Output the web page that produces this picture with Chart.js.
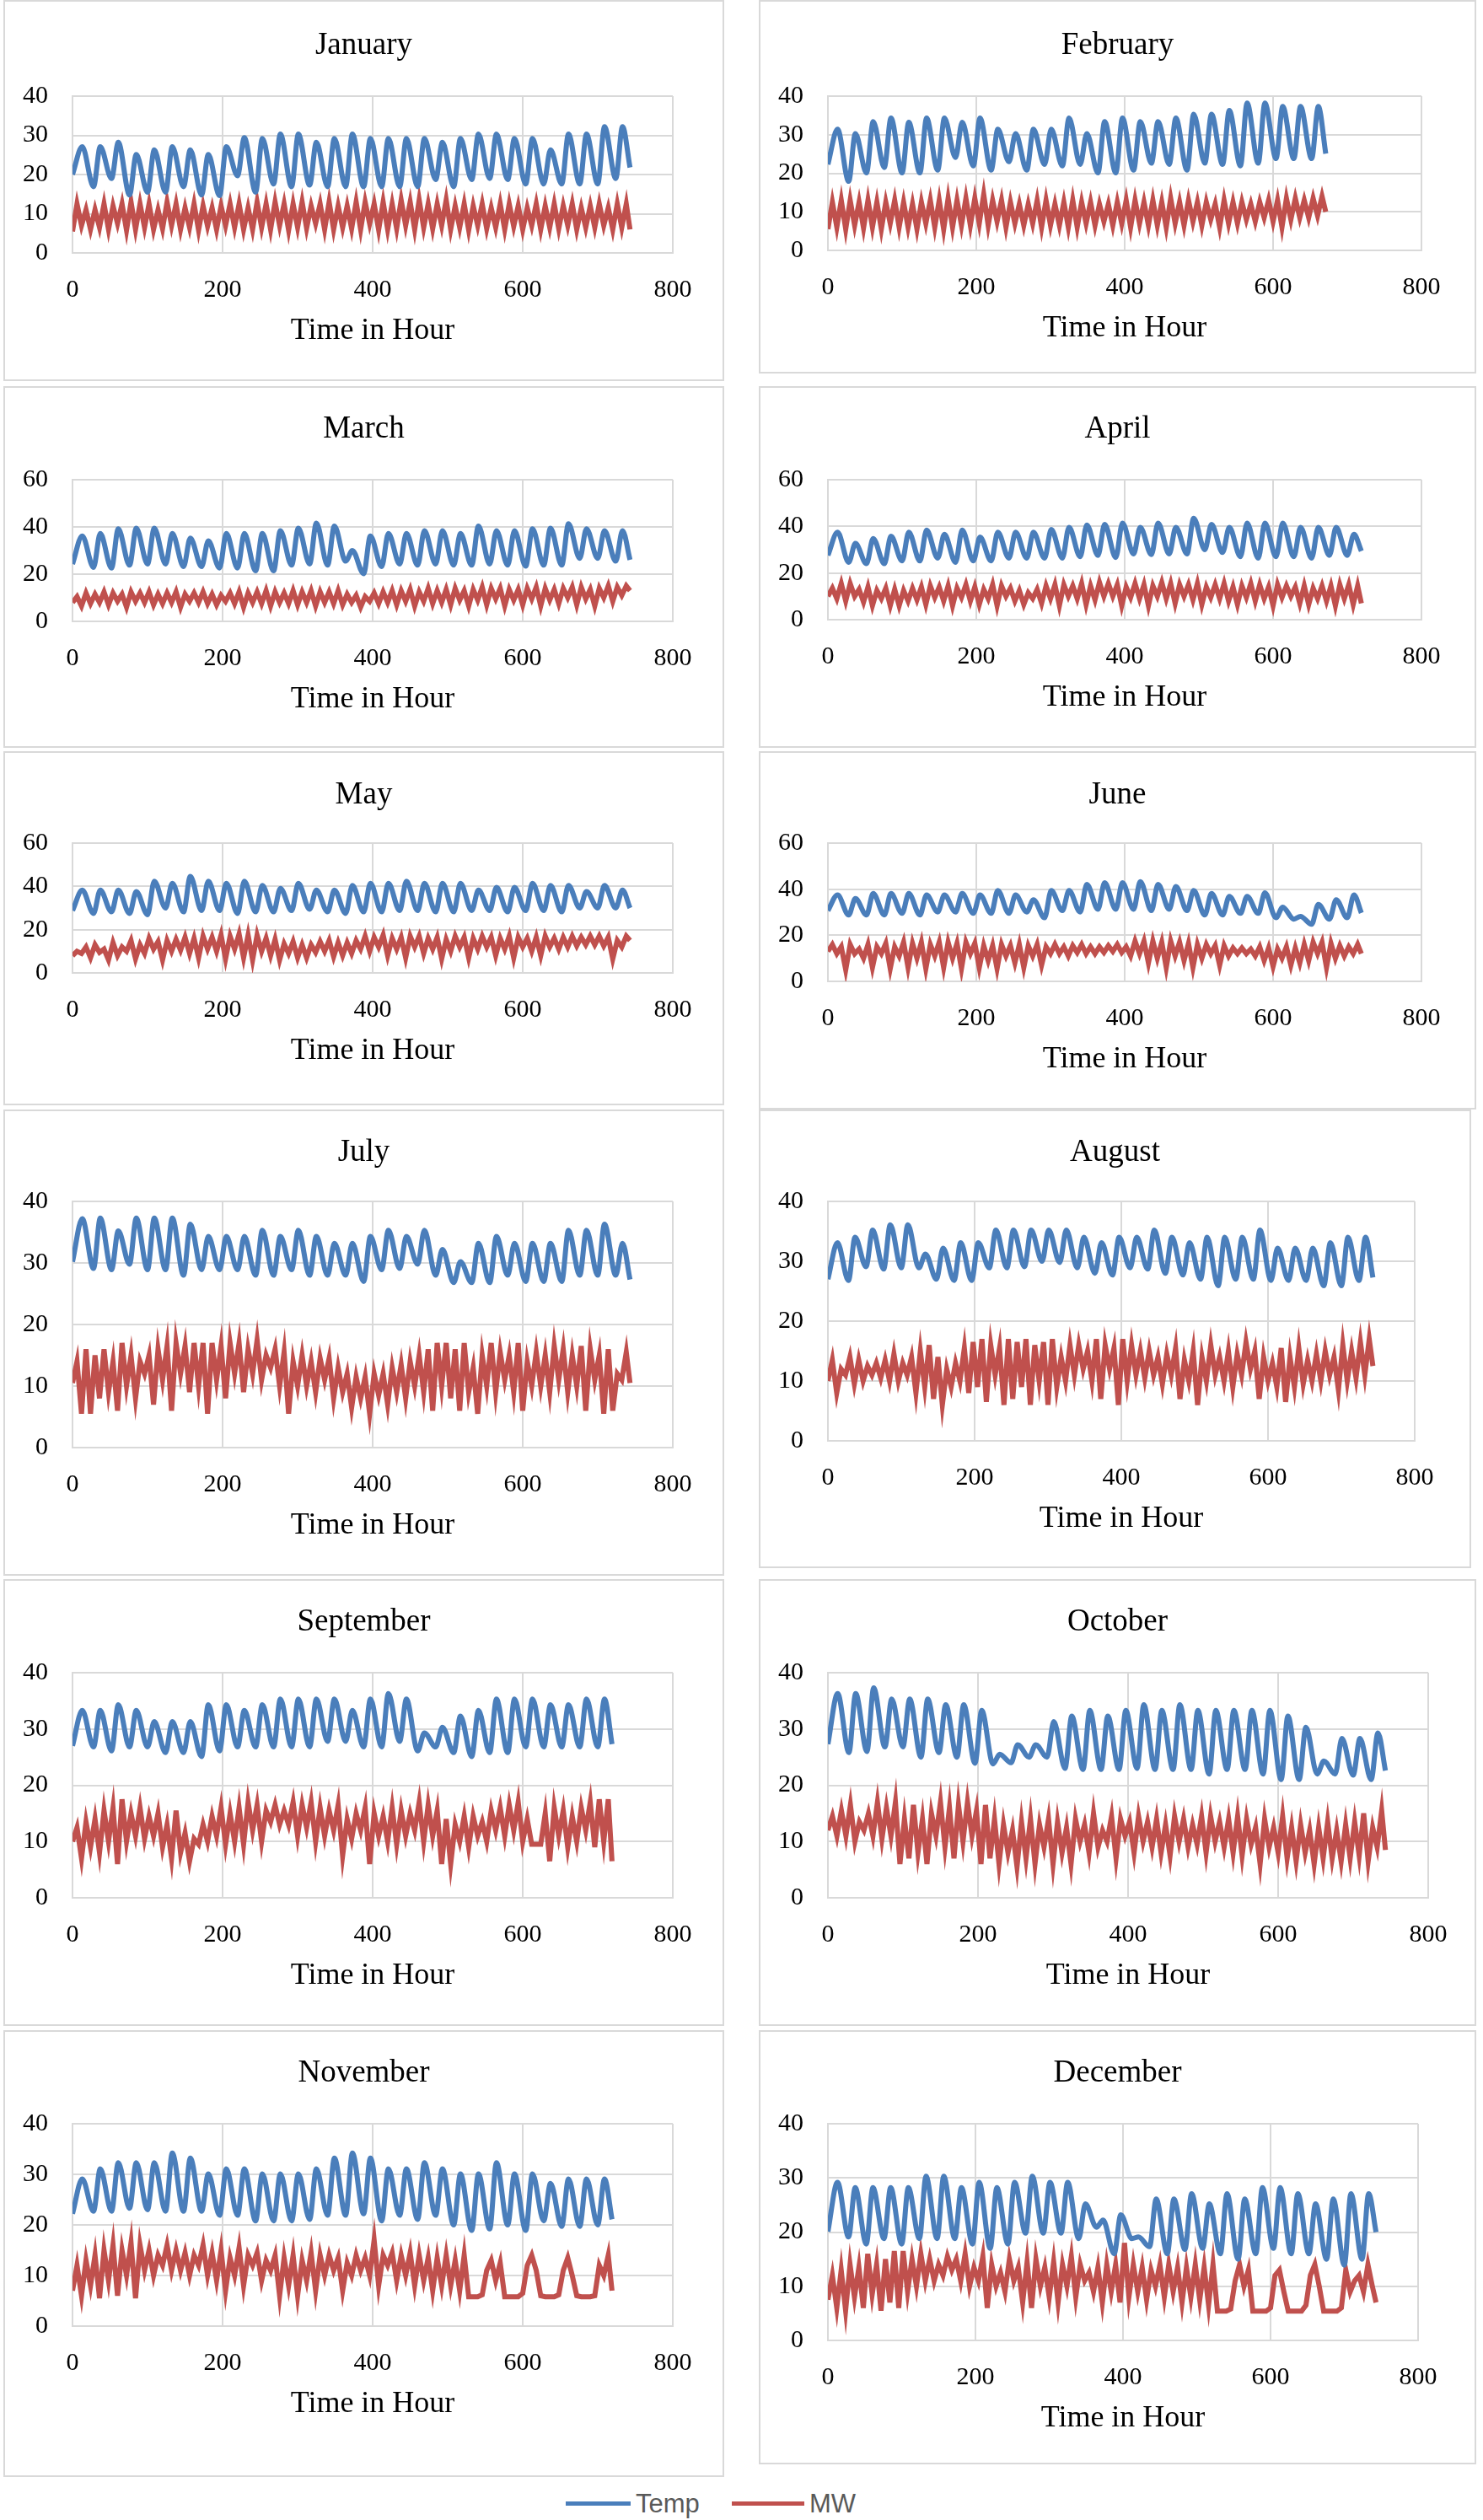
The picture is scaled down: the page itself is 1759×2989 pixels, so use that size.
<!DOCTYPE html>
<html>
<head>
<meta charset="utf-8">
<script src="https://cdn.jsdelivr.net/npm/chart.js@4.4.1/dist/chart.umd.min.js"></script>
<style>
  html, body { margin: 0; padding: 0; background: #fff; }
  #page { position: relative; width: 1759px; height: 2989px; overflow: hidden; }
  .panel { position: absolute; }
  .frame { position: absolute; border: 2px solid #d9d9d9; box-sizing: border-box; pointer-events: none; }
  .title { position: absolute; text-align: center; font-family: "Liberation Serif", "Times New Roman", serif;
    font-size: 37px; line-height: 44px; color: #000; }
  .legend { position: absolute; font-family: "Liberation Sans", Arial, sans-serif; font-size: 31px; color: #595959; }
  .legend .swatch { position: absolute; height: 5px; }
  .legend .label { position: absolute; line-height: 1; }
</style>
</head>
<body>
<div id="page"></div>
<script>
// Month names and hours in each month
const months = ['January', 'February', 'March', 'April', 'May', 'June',
  'July', 'August', 'September', 'October', 'November', 'December'];
const monthHours = [744, 672, 744, 720, 744, 720, 744, 744, 720, 744, 720, 744];

// Temp: daily low (early morning) and daily high (afternoon); last low = value at final hour
const janTempLow = [20, 16.9, 19, 14.8, 15.5, 15.5, 16.9, 14.8, 14.6, 19.7, 15.5, 17.6, 16.9, 17.3, 16.9, 16.9,
  16.9, 16.9, 16.9, 16.9, 18.7, 16.9, 18.7, 19, 18.7, 17.6, 17.6, 17.6, 17.6, 17.6, 19, 21.8];
const janTempHigh = [27.1, 27.1, 28.2, 25.1, 26.3, 27.1, 26.3, 25.1, 27.1, 29.4, 29.2, 30.3, 30.3, 28.2, 29.2, 30.3,
  29.2, 29.2, 29.2, 29.2, 28.2, 29.2, 30.3, 30.3, 29.2, 29.2, 26.3, 30.3, 30.3, 32.2, 32.2];
const febTempLow = [22.3, 17.9, 20.1, 21.5, 20.1, 20.1, 20.8, 24.1, 21.9, 20.8, 23, 20.8, 22.3, 21.9, 22.3,
  20.1, 20.1, 20.8, 22.6, 22.3, 20.8, 22.6, 22.3, 21.9, 22.6, 23.8, 23.8, 23.8, 25.1];
const febTempHigh = [31.4, 30.3, 33.4, 34.3, 33.2, 34.3, 34.3, 33.2, 34.3, 31.4, 30.3, 31.4, 31.4, 34.3,
  30.3, 33.4, 34.3, 33.4, 33.4, 34.3, 35.3, 35.3, 36.3, 38.2, 38.2, 37.3, 37.3, 37.3];
const marTempLow = [24.3, 22.9, 22.6, 23.8, 24.3, 24.3, 23.2, 23.2, 22.6, 22.6, 21.4, 21.4, 23.8, 24.3, 23.8, 25.5,
  20.2, 23.2, 24.3, 23.8, 24.3, 23.8, 23.8, 24.3, 23.8, 23.4, 23.8, 23.8, 26.7, 26.7, 25.5, 26.1];
const marTempHigh = [36.2, 37.2, 39.2, 39.5, 39.5, 37.2, 35.3, 34.1, 37.2, 37.2, 37.2, 38.4, 39.5, 41.6, 40.4, 30,
  36.2, 37.2, 37.2, 38.4, 38.4, 37.2, 40.4, 38.4, 38.4, 39.2, 39.5, 41.3, 39.2, 38.4, 38.4];
const aprTempLow = [27.6, 24.6, 24, 24, 25.2, 25.2, 26.4, 24.6, 25.2, 25.2, 26.4, 26.4, 26.4, 26.4, 27, 27.6,
  26.7, 28.2, 27.9, 28.2, 28.2, 30, 28.8, 27, 26.4, 27, 27, 26.4, 27.6, 27.6, 29.4];
const aprTempHigh = [37.5, 32.7, 34.8, 35.8, 37.5, 38.4, 36.6, 38.4, 35.4, 37.5, 37.5, 37.5, 38.7, 39.6, 40.6,
  40.8, 41.4, 39.6, 41.4, 39.6, 43.5, 40.8, 39.6, 41.4, 41.4, 41.4, 39.6, 39.6, 39.6, 36.6];
const mayTempLow = [28.8, 27.5, 28.2, 27.5, 26.9, 30, 28.2, 28.8, 28.8, 27.5, 28.2, 28.2, 28.8, 29.4, 28.2, 27.5,
  28.2, 28.2, 28.8, 28.8, 28.2, 28.2, 28.8, 28.8, 28.2, 28.8, 28.8, 28.2, 30, 30, 30, 30];
const mayTempHigh = [38.3, 38.3, 38.3, 37.6, 42.4, 41.4, 44.6, 42.4, 41.4, 42.4, 40.4, 39.1, 41.4, 38.3, 38.3, 40.4,
  41.4, 41.4, 42.4, 41.4, 41.4, 41.4, 38.3, 39.5, 39.5, 41.4, 40.4, 40.4, 37.6, 40.4, 38.3];
const junTempLow = [30.7, 28.8, 28.8, 28.8, 29.5, 28.8, 30.1, 30.1, 29.5, 29.5, 29.5, 30.1, 27.6, 30.7, 30.1, 31.3,
  31.3, 31.3, 30.7, 31.3, 30.7, 28.8, 28.8, 29.5, 29.5, 27.6, 27, 24.8, 27, 27.6, 29.7];
const junTempHigh = [37.5, 35.9, 38.1, 38.1, 38.1, 37.5, 37.5, 38.1, 37.5, 39.4, 37.5, 35.4, 39.4, 39.4, 42.1,
  42.8, 42.8, 43.3, 42.1, 41.2, 39.4, 38.1, 36.9, 36.9, 38.4, 32.2, 28.2, 33.4, 35.4, 37.5];
const julTempLow = [30.2, 29.1, 28.9, 29.8, 28.9, 28.9, 28, 28.9, 28.9, 28.9, 28, 28, 28.9, 28, 28, 28,
  27, 28.9, 29.1, 29.8, 28, 26.8, 26.8, 26.8, 28, 27, 27, 27, 28, 28, 28, 27.3];
const julTempHigh = [37.2, 37.3, 35.2, 37.3, 37.3, 37.3, 36.3, 34.3, 34.3, 34.3, 35.3, 34.3, 35.3, 34.3, 33.2, 33.2,
  34.3, 35.3, 34.3, 35.3, 32.2, 30.2, 33.2, 34.3, 33.2, 33.2, 33.2, 35.3, 35.3, 36.3, 33.2];
const augTempLow = [27, 26.8, 29.1, 28.7, 28.9, 28.9, 27, 26.8, 26.8, 28.9, 28.9, 29.1, 30, 29.8, 28.9, 28,
  27.7, 28.9, 28.7, 28, 27.7, 27, 25.9, 27, 27, 26.8, 26.8, 26.8, 25.9, 25.9, 26.8, 27.3];
const augTempHigh = [33.1, 34, 35.2, 36.1, 36.1, 31.2, 32.2, 33.1, 33.1, 35.2, 35.2, 35.2, 35.2, 35.2, 34, 33.1,
  34, 34, 35.2, 34, 33.1, 34, 34, 34, 35.2, 32.2, 32.2, 32.2, 33.1, 34, 34];
const sepTempLow = [27, 26.8, 26.1, 26.8, 26.8, 25.8, 25.8, 25.1, 26.1, 26.8, 26.8, 26.8, 26.8, 26.8, 27.8, 27.8,
  26.8, 26.8, 27.8, 26.1, 26.8, 25.8, 25.1, 25.8, 25.8, 26.8, 26.8, 26.8, 26.8, 26.8, 27.3];
const sepTempHigh = [33.3, 33.3, 34.3, 33.3, 31.3, 31.3, 31.3, 34.3, 34.3, 33.3, 34.3, 35.3, 35.3, 35.3, 35.3,
  33.3, 35.3, 36.3, 35.3, 29.3, 30.3, 32.3, 33.3, 35.3, 35.3, 35.3, 34.3, 34.3, 35.3, 35.3];
const octTempLow = [27.3, 25.8, 26, 26.8, 26.8, 25, 25.8, 25, 23.9, 23.8, 24, 25, 25, 23, 22.8, 22.8,
  22.8, 23, 22.8, 22.8, 22.8, 22, 22.8, 22.8, 22, 21, 21, 22, 22, 21.8, 21, 22.6];
const octTempHigh = [36.3, 36.3, 37.3, 35.3, 35.3, 35.3, 34.3, 34.3, 33.3, 25.5, 27.2, 27.2, 31.3, 32.3, 33.3, 32.3,
  33.3, 34.3, 33.3, 34.3, 33.3, 33.3, 33.3, 33.3, 33.3, 32.3, 30.3, 24.3, 28.3, 28.3, 29.3];
const novTempLow = [22.2, 22.7, 22.7, 23.3, 23, 22.7, 22.7, 22.7, 21.9, 21.9, 20.8, 20.8, 20.8, 21.1, 21.9, 21.9,
  22.2, 20.8, 21.9, 21.1, 21.9, 20, 18.9, 19.2, 20, 18.9, 20.8, 19.7, 19.7, 20, 21.1];
const novTempHigh = [29.1, 31.1, 32.3, 32.3, 32.3, 34.2, 33.2, 30.1, 31.1, 31.1, 30.1, 30.1, 30.1, 31.1, 33.2,
  34.2, 33.2, 31.1, 31.1, 32.3, 31.1, 30.1, 30.1, 32.3, 30.1, 30.1, 28.2, 29.1, 29.1, 29.1];
const decTempLow = [20.1, 19.1, 17.8, 18.8, 17.8, 18.8, 18.8, 18.8, 17.8, 17, 17.8, 19.8, 19.8, 19.8, 18.8, 20.9,
  16, 18.8, 17.3, 16, 16.8, 17, 16, 15, 16, 17, 16, 16, 15, 13.9, 15, 20];
const decTempHigh = [29.2, 28.2, 28.2, 28.2, 28.2, 30.3, 30.3, 28.2, 29.2, 28.2, 29.2, 30.3, 29.2, 29.2, 25.2, 22.2,
  23.2, 19.1, 26.1, 26.1, 27.1, 25.2, 27.1, 26.1, 28.2, 28.2, 27.1, 25.2, 26.1, 27.1, 27.1];

// MW: readings every 6 hours (4 per day), last value = final hour
const janMW = [5.5, 12.5, 7, 11, 6, 11, 6.5, 12.5, 6, 12, 7.5, 12.5, 5.8, 13, 6, 12.5,
  6.5, 12.5, 6, 11, 6.2, 13, 7, 12.5, 6, 11.5, 6.5, 12.5, 5.8, 12, 6.8, 11.5,
  6, 12, 7, 12.5, 6.5, 12.5, 6, 11.5, 6, 13, 6.5, 12.5, 6, 13, 7, 12.5,
  5.8, 12.5, 6.5, 13, 6.3, 12, 7.5, 12.5, 6, 13, 6, 12, 6.5, 12, 6.2, 13,
  6, 13, 7.5, 12.5, 5.9, 13, 6, 12.5, 6.2, 13.5, 7, 13, 6, 13.5, 6.5, 12.5,
  6.2, 12.5, 7, 13.5, 6, 12, 6.5, 12.5, 5.8, 12, 7, 12.5, 6.2, 11.5, 6.5, 12.5,
  6, 12.5, 6.8, 12, 6, 11.5, 7, 12.5, 6, 12, 6.5, 12.5, 6.2, 12, 7, 12.5,
  6, 11.5, 6.5, 12, 6.5, 12.5, 7, 11.5, 6, 12.5, 6.5, 12.5, 6];
const febMW = [5.5, 12.5, 6, 13, 5.5, 13, 6.5, 12.5, 5.8, 13, 6, 12.5, 5.5, 12.5, 7, 13,
  6, 12.5, 6, 12, 5.5, 12.5, 7, 13, 6, 13, 5.5, 13.5, 6, 13, 6.5, 13.5,
  6.5, 13.5, 7, 14.5, 6.5, 13, 7.5, 13, 6, 12.5, 7, 12, 6.5, 12, 7, 13,
  6, 13, 6.5, 12, 6.5, 12.5, 6, 13, 6, 12.5, 7, 12.5, 6.5, 12, 7.5, 12,
  6.5, 12.5, 7, 13, 6, 13, 7, 12.5, 6.5, 13, 6.5, 12.5, 6, 13.5, 7, 12.5,
  6.5, 13, 7.5, 12.5, 6.5, 12.5, 8, 12, 6, 13, 7, 12.5, 7, 12.5, 8, 12,
  7.5, 12.5, 8.5, 13, 7.5, 13, 6, 13.5, 8, 13.5, 8.5, 13, 8.5, 13.5, 9, 14, 10];
const marMW = [8, 10.5, 6.5, 12, 7.5, 11.5, 8, 12.5, 7, 12, 8.5, 11.5, 6, 12.5, 8.5, 12,
  8, 12.5, 7, 11.5, 7.5, 12, 8, 12.5, 6, 11.5, 8.5, 12, 8, 12.5, 7.5, 11.5,
  7, 11, 8.5, 12, 7.5, 12.5, 6, 12, 8, 12.5, 7.5, 13, 6.5, 12.5, 8, 12,
  7.5, 13, 7, 12.5, 8, 13, 6.5, 12.5, 8, 12.5, 7.5, 13, 7, 11.5, 8, 11,
  6, 10.5, 8.5, 12, 7.5, 12.5, 8, 13, 7, 13, 8.5, 13.5, 6.5, 12.5, 8.5, 14,
  7.5, 13, 8, 13.5, 7, 14, 9, 13, 6.5, 13.5, 9, 14.5, 7, 14, 9.5, 14,
  6.5, 13.5, 9, 13.5, 7, 14, 9.5, 14.5, 6.5, 14, 9, 13.5, 7.5, 14, 10, 14.5,
  7, 14.5, 9.5, 13.5, 6.5, 14, 10, 15, 8.5, 14.5, 11, 15, 13];
const aprMW = [10, 13.5, 9, 15.5, 8, 15.5, 10, 13, 7.5, 14, 6, 12.5, 9, 13.5, 6, 13,
  6, 12.5, 8, 13.5, 8.5, 14, 6.5, 14.5, 9.5, 14, 8, 14.5, 6, 13.5, 9.5, 15,
  8, 14, 6.5, 13, 9, 15, 6, 14.5, 10, 13.5, 8, 12.5, 6.5, 11.5, 9, 13,
  7, 14.5, 9, 15, 6, 15, 10, 14.5, 9, 15.5, 6.5, 14.5, 8.5, 16, 10, 15.5,
  10, 15, 6, 14, 9.5, 15.5, 9, 15, 6, 14.5, 10, 16, 9, 15.5, 7, 15,
  10, 15, 8.5, 15.5, 6.5, 14, 9.5, 15, 9, 15.5, 8, 14, 6.5, 14.5, 9.5, 15.5,
  8, 15, 9, 14, 6, 15, 9.5, 14.5, 10, 14, 7, 14.5, 6.5, 13.5, 9, 14.5,
  8, 14.5, 6, 15, 9, 15, 6.5, 14.5, 7];
const mayMW = [8, 10, 9, 12, 7, 13, 9.5, 11, 6, 14, 8, 12, 10, 15, 6.5, 13,
  9, 16, 11, 14.5, 6, 15, 10, 15.5, 10.5, 16.5, 9, 16, 7, 17, 11, 16.5,
  10, 17.5, 6.5, 17, 11, 18, 7, 17.5, 6, 17.5, 10, 16, 8, 15.5, 6, 13.5,
  9, 14.5, 7, 13, 7, 13, 9.5, 14.5, 10, 15, 7.5, 14, 8, 14, 9, 15,
  11, 17, 10, 16.5, 12, 17.5, 8, 16, 11, 16.5, 7, 17, 12, 17, 9, 16,
  11, 16.5, 6.5, 15.5, 10, 17, 12, 16.5, 7, 16, 11, 17, 12, 16.5, 8, 16,
  11, 17, 7, 16.5, 12, 16, 10, 16.5, 8, 17, 12, 16, 11, 16.5, 12, 17,
  12.5, 16.5, 13, 17, 13, 17, 12.5, 16.5, 6.5, 15, 12, 17, 15];
const junMW = [13, 16, 12, 15, 5, 16, 12, 14, 10, 16, 6, 15, 12, 16.5, 5.5, 15,
  11, 17, 6, 16.5, 10, 17, 5.5, 16, 11, 17, 6, 17, 10, 16.5, 5.5, 17,
  12, 16.5, 6, 15.5, 9, 15.5, 5.5, 16, 11, 15.5, 8, 16, 6, 15.5, 11, 16,
  7, 15, 12, 16, 12, 15, 11, 15.5, 12.5, 16, 12, 15, 12, 15, 12.5, 15.5,
  13, 16, 12.5, 15, 11, 17.5, 12, 17.5, 8, 17.5, 10, 17, 6, 17.5, 11, 17,
  9, 16.5, 6, 16, 10, 16, 12, 15.5, 7, 15.5, 11, 14.5, 12, 14.5, 12, 14,
  11, 15, 9, 14.5, 6.5, 14, 10, 15, 7, 14.5, 8, 16, 9, 17, 12, 17,
  6, 16.5, 10, 15.5, 11, 15, 12, 16, 12];
const julMW = [10.5, 14, 5.5, 16, 5.5, 15, 8, 16, 9, 14, 6, 17, 10, 15, 8, 14,
  12, 15, 7, 16, 11, 16.5, 6, 17, 12, 16.5, 9, 17, 10, 17, 5.5, 17,
  11, 16.5, 8, 17, 12, 17, 9, 16, 12, 17.5, 11, 15, 13, 16, 10, 15.5,
  5.5, 14, 10, 15, 10, 14, 9, 14.5, 11, 14.5, 8, 13, 9, 12, 6.5, 11.5,
  8, 11.5, 5.5, 12, 8.5, 12, 7, 13, 9, 13.5, 8, 14, 10, 15, 9, 16,
  6, 17, 10, 17, 8, 16, 6, 17, 9, 13, 5.5, 15, 10, 17, 9, 15.5,
  11, 15, 9, 17, 6, 14, 10, 15.5, 10, 15, 9, 16.5, 11, 16, 9, 15,
  10, 16.5, 6, 16, 11, 15, 5.5, 16, 6, 12, 11, 15.5, 10.5];
const augMW = [10, 13.5, 8, 12, 11, 14, 9.5, 13.5, 10, 12.5, 11, 13, 10.5, 13.5, 10, 14.5,
  10, 13, 11, 14, 8, 15, 9, 16, 7, 14, 6, 12, 9, 13, 10, 15.5,
  8, 16.5, 9, 17, 6.5, 16, 11, 15.5, 6, 17, 7, 16.5, 9, 17, 6, 16,
  10, 16.5, 6, 17, 9, 14, 10, 16, 11, 16, 12, 15, 10, 17, 7, 16,
  12, 15.5, 6, 17, 10, 16, 11, 15, 10.5, 15, 11, 14, 9.5, 14.5, 11, 15.5,
  7, 13.5, 10, 15, 6, 14, 10, 16, 11, 14, 10, 15, 9, 14.5, 11, 16.5,
  12, 15, 7, 14, 10, 13, 9, 15.5, 6.5, 14, 9, 15.5, 9.5, 13.5, 10, 14.5,
  10, 15, 11, 14, 8.5, 16, 10, 15, 10.5, 16.5, 11, 17, 12.5];
const sepMW = [10, 12.5, 7, 13.5, 9, 14, 8, 15.5, 10, 16, 6, 17.5, 10, 15, 11, 16,
  10.5, 14.5, 11, 15, 9, 13, 7, 15.5, 8, 11.5, 6.5, 10.5, 9.5, 13, 10, 14.5,
  11, 16, 9.5, 15, 10, 16, 9.5, 17, 12, 16.5, 10, 15.5, 13.5, 16.5, 13, 15.5,
  13, 17, 11, 16.5, 12.5, 17, 10, 16, 11, 15.5, 12, 16.5, 7.5, 14, 10.5, 15,
  12, 16, 6, 15, 11, 14.5, 10, 16, 9.5, 15.5, 11, 15, 12, 17, 10, 16.5,
  11, 15.5, 6, 14, 6, 13, 10, 14.5, 9, 14.5, 11, 13.5, 10, 15.5, 12, 16,
  11, 16.5, 12, 17, 10, 14, 9.5, 9.5, 9.5, 15, 6.5, 16, 11, 15.5, 9, 14.5,
  10, 16, 12, 17, 9, 17.5, 10, 17.5, 6.5];
const octMW = [12, 14.5, 11, 15.5, 11, 16.5, 10, 13.5, 12, 15, 11, 17, 10.5, 16, 11, 17,
  6, 14, 7, 16.5, 8, 14, 6, 15, 11, 17, 9, 16, 7, 16.5, 10, 17,
  11, 15.5, 6, 16.5, 7, 14, 6, 13, 8, 12, 5.5, 13.5, 7, 14, 6, 13,
  9, 14, 6, 13.5, 8, 12.5, 6, 14, 10, 13, 8, 15, 9, 12, 10, 14.5,
  7, 14, 11, 13.5, 8, 14.5, 10, 13.5, 9, 14, 8, 13, 7.5, 14.5, 10, 14,
  9, 13, 9.5, 14.5, 8, 14.5, 10, 13.5, 9, 14, 8, 14.5, 7.5, 14, 9.5, 12.5,
  6, 14, 9, 12.5, 8, 14.5, 7, 12.5, 6.5, 13, 8, 12, 6, 12.5, 7, 13.5,
  7, 12, 6.5, 13, 7, 13.5, 7.5, 15, 6.5, 12.5, 9, 15.5, 8.5];
const novMW = [7, 12, 6, 13, 8, 14, 5.5, 15, 9, 16, 6, 15, 10, 16.5, 5.5, 16,
  11, 15, 10, 14, 12, 16, 11, 15, 11, 14.5, 10, 14, 12, 16, 10, 14.5,
  9, 15, 7, 13.5, 10, 15.5, 8, 14, 12, 14.5, 9, 13, 11, 14, 6, 13.5,
  8, 14, 6, 13, 9, 14.5, 7, 14, 10, 14, 11, 13.5, 7, 12.5, 10, 14,
  11, 13.5, 10, 17, 8, 14, 12, 14.5, 9, 14, 10, 14.5, 8, 14, 9, 13.5,
  7, 13.5, 8, 14, 8, 13, 7, 14, 5.8, 5.8, 5.8, 6.2, 11, 13, 9, 12.5,
  5.8, 5.8, 5.8, 5.8, 6.5, 12, 14, 11, 6, 5.8, 5.8, 5.8, 6.2, 11, 13.5, 10,
  6, 5.8, 5.8, 5.8, 6, 12, 10, 14, 7];
const decMW = [7.5, 12, 6, 13, 5.5, 14, 8, 13.5, 6, 16, 8.5, 14, 5.5, 15, 7, 16.5,
  6, 16.5, 9, 15, 10, 16, 11, 15, 11, 14, 12, 15.5, 13, 15, 11, 16,
  10, 13.5, 11, 15.5, 6, 14, 10, 12.5, 9, 15, 11, 13.5, 7, 14.5, 6, 15,
  10, 13.5, 8, 14.5, 7, 14, 10, 15.5, 8, 14, 11, 12.5, 9, 13.5, 7, 14,
  9, 14, 7, 18, 8, 14, 9, 13.5, 7.5, 13, 10, 14, 8, 14, 9, 13.5,
  7, 13.5, 8, 14, 7.5, 13.5, 6.5, 14, 5.4, 5.4, 5.4, 5.8, 11, 14, 10, 13,
  5.4, 5.4, 5.4, 5.4, 6, 12, 13, 9, 5.4, 5.4, 5.4, 5.4, 6.5, 12, 14, 10,
  5.4, 5.4, 5.4, 5.4, 6, 13, 9, 11, 12, 9, 14, 10, 7];

const tempLows = [janTempLow, febTempLow, marTempLow, aprTempLow, mayTempLow, junTempLow,
  julTempLow, augTempLow, sepTempLow, octTempLow, novTempLow, decTempLow];
const tempHighs = [janTempHigh, febTempHigh, marTempHigh, aprTempHigh, mayTempHigh, junTempHigh,
  julTempHigh, augTempHigh, sepTempHigh, octTempHigh, novTempHigh, decTempHigh];
const mwSeriesList = [janMW, febMW, marMW, aprMW, mayMW, junMW, julMW, augMW, sepMW, octMW, novMW, decMW];
const yMaxes = [40, 40, 60, 60, 60, 60, 40, 40, 40, 40, 40, 40];

// Panel frames and plot areas in page pixels: [left, top, width, height], plot [l, t, r, b] inside frame
const frames = [
  [4, 0, 855, 452], [900, 0, 851, 443],
  [4, 458, 855, 429], [900, 458, 851, 429],
  [4, 891, 855, 420], [900, 891, 851, 425],
  [4, 1316, 855, 553], [900, 1316, 845, 544],
  [4, 1873, 855, 530], [900, 1873, 851, 530],
  [4, 2408, 855, 530], [900, 2408, 851, 515]
];
const plots = [
  [82, 114, 794, 300], [82, 114, 786, 297],
  [82, 111, 794, 279], [82, 111, 786, 277],
  [82, 109, 794, 263], [82, 109, 786, 273],
  [82, 109, 794, 401], [82, 109, 778, 393],
  [82, 111, 794, 378], [82, 111, 794, 378],
  [82, 111, 794, 351], [82, 111, 782, 368]
];
const titleCenters = [52, 52, 49, 49, 50, 50, 49, 49, 49, 49, 49, 49];

const LOW_HOUR = 4, PEAK_HOUR = 13, MW_STEP = 6;
const Y_AXIS_W = 70, X_AXIS_H = 122;
const serif = '"Liberation Serif", "Times New Roman", serif';

function tempPoints(lows, highs, hours) {
  const pts = [];
  highs.forEach((v, d) => {
    pts.push({ x: d === 0 ? 0 : d * 24 + LOW_HOUR, y: lows[d] });
    pts.push({ x: d * 24 + PEAK_HOUR, y: v });
  });
  pts.push({ x: hours - 1, y: lows[highs.length] });
  return pts;
}

function mwPoints(vals, hours) {
  return vals.map((v, i) => ({ x: Math.min(i * MW_STEP, hours - 1), y: v }));
}

const page = document.getElementById('page');

months.forEach((name, m) => {
  const [fx, fy, fw, fh] = frames[m];
  const [pl, pt, pr, pb] = plots[m];

  const canvas = document.createElement('canvas');
  canvas.className = 'panel';
  canvas.width = fw;
  canvas.height = fh;
  canvas.style.left = fx + 'px';
  canvas.style.top = fy + 'px';
  canvas.style.width = fw + 'px';
  canvas.style.height = fh + 'px';
  page.appendChild(canvas);

  const frame = document.createElement('div');
  frame.className = 'frame';
  frame.style.left = fx + 'px';
  frame.style.top = fy + 'px';
  frame.style.width = fw + 'px';
  frame.style.height = fh + 'px';
  page.appendChild(frame);

  // Panel title, centred over the whole frame
  const title = document.createElement('div');
  title.className = 'title';
  title.textContent = name;
  title.style.left = fx + 'px';
  title.style.width = fw + 'px';
  title.style.top = (fy + titleCenters[m] - 22) + 'px';
  page.appendChild(title);

  new Chart(canvas.getContext('2d'), {
    type: 'line',
    data: {
      datasets: [{
        label: 'Temp',
        data: tempPoints(tempLows[m], tempHighs[m], monthHours[m]),
        borderColor: '#4a7ebb',
        borderWidth: 6,
        pointRadius: 0,
        cubicInterpolationMode: 'monotone',
        fill: false
      }, {
        label: 'MW',
        data: mwPoints(mwSeriesList[m], monthHours[m]),
        borderColor: '#c0504d',
        borderWidth: 6,
        pointRadius: 0,
        tension: 0,
        fill: false
      }]
    },
    options: {
      responsive: false,
      animation: false,
      devicePixelRatio: 1,
      layout: {
        padding: { left: pl - Y_AXIS_W, right: fw - pr, top: pt, bottom: fh - pb - X_AXIS_H }
      },
      plugins: {
        legend: { display: false },
        tooltip: { enabled: false },
        title: { display: false }
      },
      scales: {
        x: {
          type: 'linear',
          min: 0,
          max: 800,
          afterFit: (scale) => { scale.height = X_AXIS_H; },
          ticks: { stepSize: 200, color: '#000', padding: 26, font: { family: serif, size: 30 } },
          grid: { color: '#d9d9d9', lineWidth: 2, drawTicks: false },
          border: { color: '#d9d9d9', width: 2 },
          title: {
            display: true,
            text: 'Time in Hour',
            color: '#000',
            font: { family: serif, size: 36, lineHeight: 1.2 },
            padding: { top: 0, bottom: X_AXIS_H - 93 - 36 * 1.2 / 2 }
          }
        },
        y: {
          min: 0,
          max: yMaxes[m],
          afterFit: (scale) => { scale.width = Y_AXIS_W; },
          ticks: { stepSize: yMaxes[m] / 4 > 10 ? 20 : 10, color: '#000', padding: 29, font: { family: serif, size: 30 } },
          grid: { color: '#d9d9d9', lineWidth: 2, drawTicks: false },
          border: { color: '#d9d9d9', width: 2 }
        }
      }
    }
  });
});

// Shared legend at the bottom
const legend = document.createElement('div');
legend.className = 'legend';
legend.style.left = '0px';
legend.style.top = '2950px';
legend.style.width = '1759px';
legend.style.height = '39px';
legend.innerHTML =
  '<div class="swatch" style="left:671px;top:17px;width:77px;background:#4a7ebb"></div>' +
  '<div class="label" style="left:754px;top:4px">Temp</div>' +
  '<div class="swatch" style="left:868px;top:17px;width:86px;background:#c0504d"></div>' +
  '<div class="label" style="left:960px;top:4px">MW</div>';
page.appendChild(legend);
</script>
</body>
</html>
